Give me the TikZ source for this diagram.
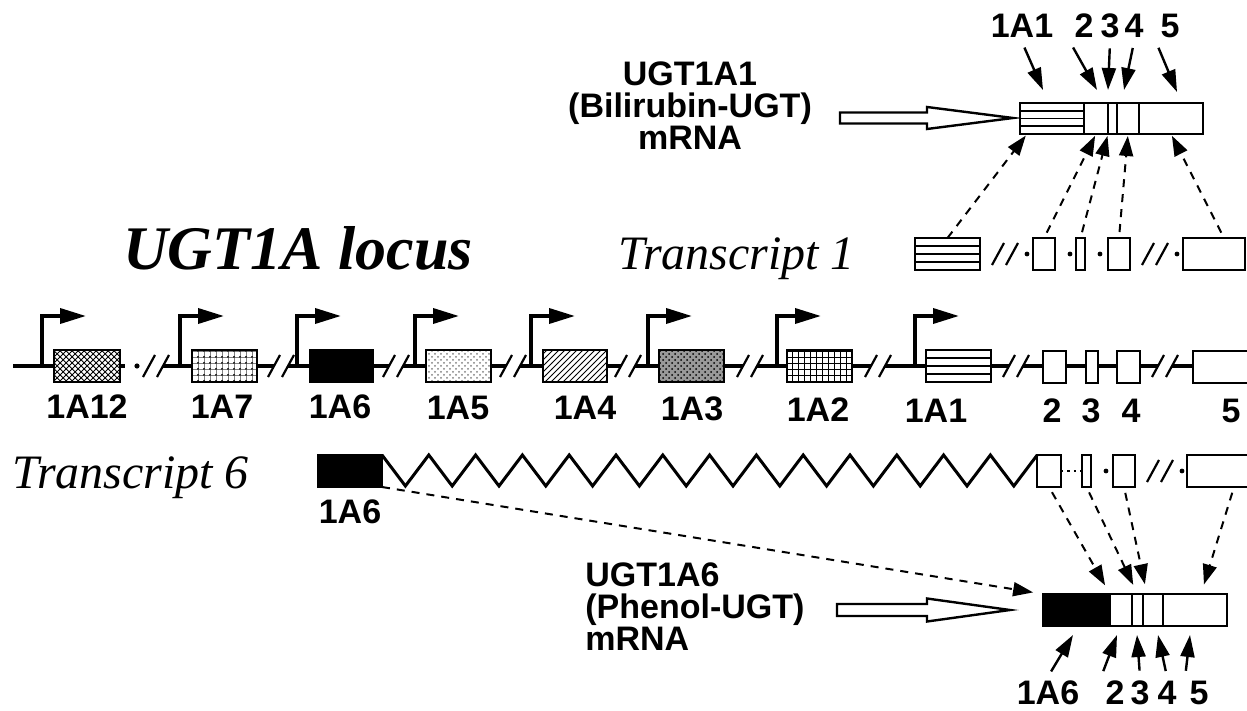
\documentclass[tikz,border=0pt]{standalone}
\usepackage{fontspec}
\setmainfont{Liberation Serif}
\setsansfont{Liberation Sans}
\usetikzlibrary{arrows.meta,patterns,calc}

\tikzset{
  exon/.style={draw, line width=1.2pt, inner sep=0pt, outer sep=0pt, minimum height=16pt, fill=white},
  pat/.style={exon, preaction={fill=white}, pattern=#1},
  stripes/.style={exon, path picture={
      \foreach \f in {0.25,0.5,0.75}
        \draw[line width=0.9pt] ($(path picture bounding box.north west)!\f!(path picture bounding box.south west)$)
          -- ($(path picture bounding box.north east)!\f!(path picture bounding box.south east)$);
    }},
  bb/.style={line width=1.7pt},
  zig/.style={line width=1.5pt, line join=miter},
  brkline/.style={line width=1.1pt},
  prom/.style={line width=1.8pt, -{Triangle[length=13pt,width=7.5pt]}},
  ptr/.style={line width=1.2pt, shorten <=3pt, -{Triangle[length=11pt,width=7pt]}},
  dptr/.style={line width=1pt, dash pattern=on 4pt off 3.5pt, -{Triangle[length=10pt,width=7pt]}},
  lbl/.style={font=\sffamily\bfseries\fontsize{17}{17}\selectfont, inner sep=2pt},
  txt/.style={font={\sffamily\bfseries\fontsize{17}{16}\selectfont}, inner sep=0pt},
  ttl/.style={font=\bfseries\itshape\fontsize{31}{31}\selectfont, anchor=base, inner sep=0pt},
  trn/.style={font=\itshape\fontsize{24}{24}\selectfont, anchor=base, inner sep=0pt},
  hollow/.style={line width=1.2pt, fill=white, line join=miter},
}

% break mark on a line
\newcommand{\breakmark}[2]{%
  \fill[white] (#1-13,#2+11) -- (#1-1,#2-11) -- (#1+13,#2-11) -- (#1+1,#2+11) -- cycle;
  \draw[brkline] (#1-13,#2+11) -- (#1-1,#2-11) (#1+1,#2+11) -- (#1+13,#2-11);}

\begin{document}
\begin{tikzpicture}[x=0.5pt, y=-0.5pt]
\useasboundingbox (0,0) rectangle (1247,711);

\node[ttl] (locus) at (298,270) {UGT1A locus};

% genomic locus
\draw[bb] (13,366) -- (125,366);
\draw[bb] (150,366) -- (1200,366);
\fill (137,366) circle (1.3pt);
\foreach \x in {42,180,297,415,531,648,777,915}
  \draw[prom] (\x,366) |- (\x+44,316);
\foreach \x in {156,281,396,513,628,750,878,1016,1165}
  {\breakmark{\x}{366}}

\node[pat=crosshatch, minimum width=33pt] (g12) at (87,366) {};
\node[pat=dots, preaction={pattern=grid, pattern color=gray}, minimum width=32.5pt] (g7) at (224.5,366) {};
\node[exon, fill=black, minimum width=31.5pt] (g6) at (341.5,366) {};
\node[pat=crosshatch dots, pattern color=gray, minimum width=32.5pt] (g5) at (458.5,366) {};
\node[pat=north east lines, minimum width=32pt] (g4) at (575,366) {};
\node[exon, preaction={fill=black!40}, pattern=crosshatch dots, minimum width=32.5pt] (g3) at (691.5,366) {};
\node[pat=grid, minimum width=32.5pt] (g2) at (819.5,366) {};
\node[stripes, minimum width=32.5pt] (g1) at (958.5,366) {};
\node[exon, minimum width=11.5pt] (e2) at (1054.5,367) {};
\node[exon, minimum width=6pt] (e3) at (1092,367) {};
\node[exon, minimum width=11.5pt] (e4) at (1128.5,367) {};
\node[exon, minimum width=30pt] (e5) at (1223,367) {};

\node[lbl] (l12) at (87,407) {1A12};
\node[lbl] (l7) at (222,407) {1A7};
\node[lbl] (l6) at (340,407) {1A6};
\node[lbl] (l5) at (458,408) {1A5};
\node[lbl] (l4) at (585,408) {1A4};
\node[lbl] (l3) at (692,409) {1A3};
\node[lbl] (l2) at (818,410) {1A2};
\node[lbl] (l1) at (936,411) {1A1};
\node[lbl] (le2) at (1052,411) {2};
\node[lbl] (le3) at (1091,411) {3};
\node[lbl] (le4) at (1131,411) {4};
\node[lbl] (le5) at (1231,411) {5};

% transcript 1
\node[trn] (tr1) at (737,270) {Transcript 1};
\node[stripes, minimum width=32.5pt] (t1) at (947.5,254) {};
\node[exon, minimum width=11pt] (t2) at (1044,254) {};
\node[exon, minimum width=4.5pt] (t3) at (1080.5,254) {};
\node[exon, minimum width=11pt] (t4) at (1119,254) {};
\node[exon, minimum width=31pt] (t5) at (1214,254) {};
\breakmark{1005}{254}
\breakmark{1155}{254}
\foreach \x in {1027,1070,1100,1177}
  \fill (\x,254) circle (1.2pt);

% UGT1A1 mRNA
\node[txt, align=center, anchor=base] (r1) at (690,150) {UGT1A1\\(Bilirubin-UGT)\\mRNA};
\draw[hollow] (840,112.5) -- (927,112.5) -- (927,107) -- (1013,118) -- (927,129) -- (927,123.5) -- (840,123.5) -- cycle;
\node[stripes, minimum width=32pt, minimum height=15.5pt] (m1) at (1052,118.5) {};
\node[exon, minimum width=12pt, minimum height=15.5pt] (m2) at (1096,118.5) {};
\node[exon, minimum width=4.5pt, minimum height=15.5pt] (m3) at (1112.5,118.5) {};
\node[exon, minimum width=11pt, minimum height=15.5pt] (m4) at (1128,118.5) {};
\node[exon, minimum width=32pt, minimum height=15.5pt] (m5) at (1171,118.5) {};

\node[lbl] (a1) at (1022,26) {1A1};
\node[lbl] (a2) at (1084,26) {2};
\node[lbl] (a3) at (1110,26) {3};
\node[lbl] (a4) at (1134,26) {4};
\node[lbl] (a5) at (1170,26) {5};
\coordinate (q1) at (1043,90);
\coordinate (q2) at (1097,90);
\coordinate (q3) at (1108,90);
\coordinate (q4) at (1124,90);
\coordinate (q5) at (1177,92);
\draw[ptr] (a1.south) -- (q1);
\draw[ptr] (a2.south west) -- (q2);
\draw[ptr] (a3.south) -- (q3);
\draw[ptr] (a4.south) -- (q4);
\draw[ptr] (a5.south west) -- (q5);

\draw[dptr, shorten >=1pt] (t1.north) -- ([xshift=3.5pt]m1.south west);
\draw[dptr, shorten <=3pt, shorten >=1pt] (t2.north) -- (m2.south);
\draw[dptr, shorten <=3pt, shorten >=1pt] (t3.north) -- (m3.south west);
\draw[dptr, shorten <=3pt, shorten >=1pt] (t4.north) -- (m4.south);
\draw[dptr, shorten <=3pt, shorten >=1pt] ([xshift=5pt]t5.north) -- (m5.south);

% transcript 6
\node[trn] (tr6) at (131,488) {Transcript 6};
\node[exon, fill=black, minimum width=32pt] (s6) at (350,471) {};
\node[exon, minimum width=12pt] (s2) at (1049,471) {};
\node[exon, minimum width=4.5pt] (s3) at (1086.5,471) {};
\node[exon, minimum width=11pt] (s4) at (1124,471) {};
\node[exon, minimum width=33pt] (s5) at (1220,471) {};
\node[lbl] (l6b) at (350,512) {1A6};
\draw[zig] (s6.north east) \foreach \k in {1,...,14} { -- ++(23.4,31) -- ++(23.4,-31) };
\draw[dotted, line width=1.2pt] (s2.east) -- (s3.west);
\breakmark{1160}{471}
\foreach \x in {1106,1182}
  \fill (\x,471) circle (1.2pt);

% UGT1A6 mRNA
\node[txt, align=left, anchor=base west] (r6) at (585,650) {UGT1A6\\(Phenol-UGT)\\mRNA};
\draw[hollow] (837,604) -- (927,604) -- (927,598.5) -- (1010,610) -- (927,621.5) -- (927,616) -- (837,616) -- cycle;
\node[exon, fill=black, minimum width=33.5pt] (n6) at (1076.5,610) {};
\node[exon, minimum width=11pt] (n2) at (1121,610) {};
\node[exon, minimum width=5.5pt] (n3) at (1137.5,610) {};
\node[exon, minimum width=10pt] (n4) at (1153,610) {};
\node[exon, minimum width=32pt] (n5) at (1195,610) {};

\draw[dptr, shorten >=5pt] (s6.south east) -- (n6.north west);
\draw[dptr, shorten <=3pt, shorten >=5pt] (s2.south) -- (n2.north west);
\draw[dptr, shorten <=3pt, shorten >=5pt] (s3.south) -- (n3.north);
\draw[dptr, shorten <=3pt, shorten >=5pt] (s4.south) -- ([xshift=2pt]n4.north west);
\draw[dptr, shorten <=3pt, shorten >=5pt] ([xshift=7pt]s5.south) -- ([xshift=3pt]n5.north);

\node[lbl] (b6) at (1048,693) {1A6};
\node[lbl] (b2) at (1115,693) {2};
\node[lbl] (b3) at (1140,693) {3};
\node[lbl] (b4) at (1167,693) {4};
\node[lbl] (b5) at (1199,693) {5};
\coordinate (w6) at (1073,635);
\coordinate (w2) at (1117,635);
\coordinate (w3) at (1137,635);
\coordinate (w4) at (1158,635);
\coordinate (w5) at (1190,635);
\draw[ptr] (b6.north) -- (w6);
\draw[ptr] (b2.north west) -- (w2);
\draw[ptr] (b3.north) -- (w3);
\draw[ptr] (b4.north) -- (w4);
\draw[ptr] (b5.north west) -- (w5);
\end{tikzpicture}
\end{document}
